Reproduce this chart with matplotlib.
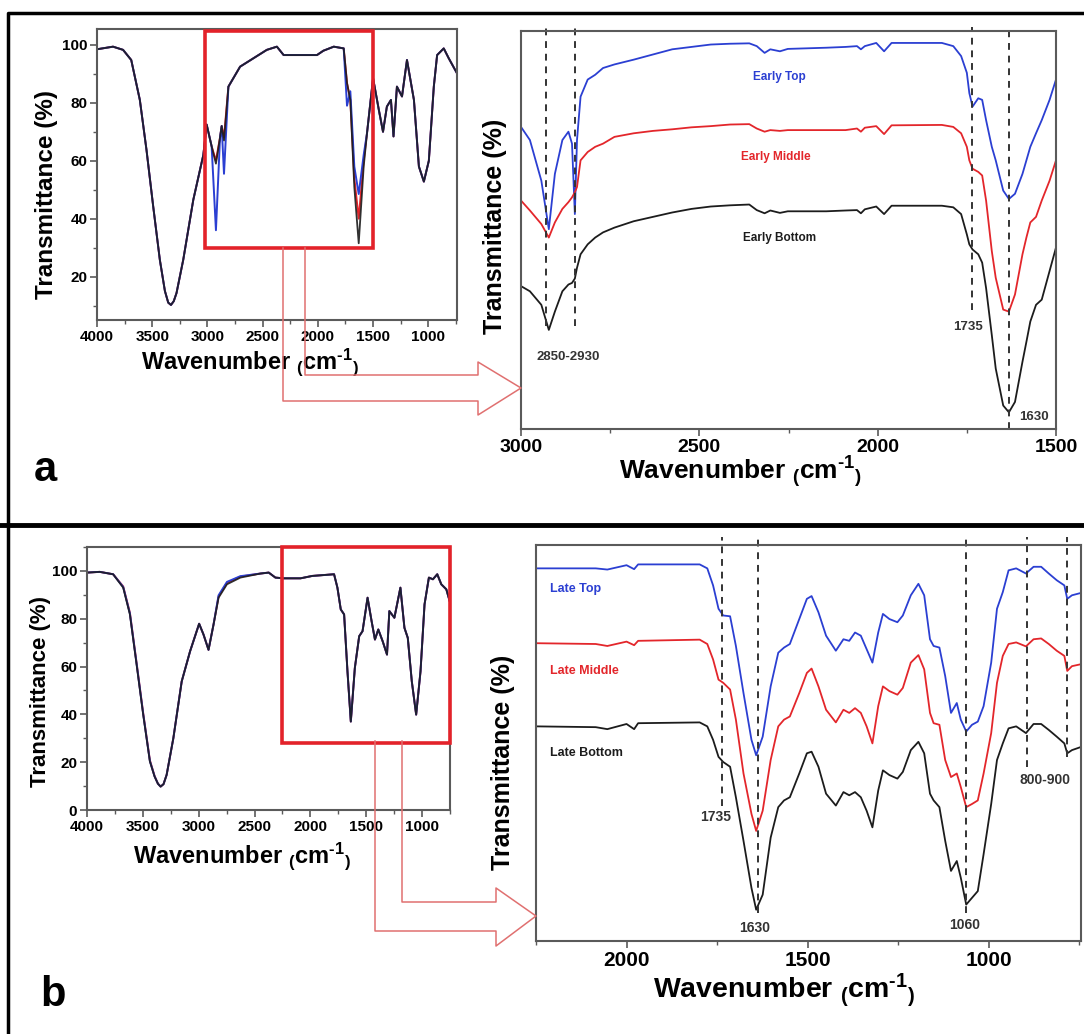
import numpy as np
import matplotlib.pyplot as plt
from matplotlib.lines import Line2D
from matplotlib.patches import Rectangle
from matplotlib.ticker import MultipleLocator

plt.rcParams.update({
    "font.family": ["Liberation Sans", "DejaVu Sans"],
    "font.weight": "bold",
    "mathtext.fontset": "custom",
    "mathtext.rm": "Liberation Sans:bold",
    "mathtext.bf": "Liberation Sans:bold",
    "mathtext.default": "rm",
})

W, H = 1084, 1034

BLUE = "#2b3fd2"
RED = "#e3262b"
BLACK = "#1c1c1c"
BOX_RED = "#e3222a"
ARROW_RED = "#e07070"
SPINE = "#5a5a5a"

XLABEL = "Wavenumber $_{(}$cm$^{\u20101}$$_{)}$"

# =============================================================================
# Data
# =============================================================================

# --- panel a, full spectrum (small plot) ------------------------------------
wn_a_full = [4000, 3855, 3764, 3690, 3612, 3552, 3491, 3431, 3385, 3355,
             3330, 3305, 3280, 3219, 3128, 3037, 3007, 2962, 2923, 2886,
             2871, 2850, 2810, 2704, 2462, 2371, 2310, 2008, 1950, 1856,
             1766, 1736, 1706, 1670, 1630, 1585, 1555, 1500, 1448, 1410,
             1375, 1338, 1315, 1284, 1238, 1193, 1130, 1085, 1040, 995,
             950, 920, 860, 815, 740]
early_black_full = [98.5, 99.4, 98.3, 94.8, 81.0, 63.8, 44.2, 25.8, 15.0, 11.0,
                    10.2, 11.5, 14.3, 25.8, 46.5, 62.0, 72.5, 65.0, 59.0, 68.0,
                    72.0, 67.0, 85.6, 92.5, 98.3, 99.4, 96.5, 96.5, 98.0, 99.4,
                    98.8, 86.8, 81.0, 51.0, 31.5, 58.0, 69.5, 88.5, 77.6, 70.0,
                    78.7, 81.0, 68.4, 85.6, 82.2, 94.8, 81.0, 58.0, 52.8, 60.0,
                    85.6, 96.5, 98.8, 95.4, 90.2]
early_red_full = [98.5, 99.4, 98.3, 94.8, 81.0, 63.8, 44.2, 25.8, 15.0, 11.0,
                  10.2, 11.5, 14.3, 25.8, 46.5, 62.0, 72.5, 65.0, 60.0, 68.0,
                  72.0, 68.0, 85.6, 92.5, 98.3, 99.4, 96.5, 96.5, 98.0, 99.4,
                  98.8, 86.8, 81.0, 54.0, 40.0, 60.0, 69.5, 88.5, 77.6, 70.0,
                  78.7, 81.0, 68.4, 85.6, 82.2, 94.8, 81.0, 58.0, 52.8, 60.0,
                  85.6, 96.5, 98.8, 95.4, 90.2]
early_blue_full = [98.5, 99.4, 98.3, 94.8, 81.0, 63.8, 44.2, 25.8, 15.0, 11.0,
                   10.2, 11.5, 14.3, 25.8, 46.5, 62.0, 72.5, 65.0, 36.0, 68.0,
                   72.0, 55.5, 85.6, 92.5, 98.3, 99.4, 96.5, 96.5, 98.0, 99.4,
                   98.8, 79.0, 84.0, 58.0, 48.5, 62.0, 69.5, 88.5, 77.6, 70.0,
                   78.7, 81.0, 68.4, 85.6, 82.2, 94.8, 81.0, 58.0, 52.8, 60.0,
                   85.6, 96.5, 98.8, 95.4, 90.2]

# --- panel a, zoomed 3000-1500 region (offset curves, arbitrary units) -------
wn_a_zoom = [3000, 2975, 2943, 2922, 2905, 2884, 2867, 2857, 2849, 2843,
             2833, 2813, 2792, 2770, 2738, 2684, 2630, 2576, 2522, 2468,
             2414, 2360, 2339, 2317, 2301, 2274, 2252, 2144, 2090, 2058,
             2047, 2036, 2004, 1982, 1961, 1820, 1788, 1766, 1750, 1743,
             1734, 1718, 1707, 1696, 1680, 1669, 1648, 1632, 1615, 1594,
             1583, 1572, 1556, 1540, 1518, 1500]
early_top = [75.9, 72.6, 62.4, 50.2, 64.1, 72.6, 74.7, 71.7, 54.0, 72.6,
             83.5, 87.8, 89.0, 90.7, 91.6, 92.8, 94.1, 95.4, 96.0, 96.6,
             96.8, 96.9, 96.2, 94.5, 95.4, 94.9, 95.5, 95.8, 96.0, 96.2,
             95.4, 96.2, 97.0, 94.9, 97.0, 97.0, 96.2, 93.7, 89.5, 84.4,
             81.0, 83.1, 82.7, 77.6, 70.9, 67.5, 59.9, 57.8, 59.1, 64.1,
             67.5, 70.9, 74.3, 77.6, 82.7, 87.8]
early_middle = [57.4, 54.9, 51.5, 48.1, 51.9, 55.3, 57.0, 58.2, 59.5, 60.8,
                67.5, 69.6, 70.9, 71.7, 73.4, 74.3, 74.9, 75.3, 75.8, 76.1,
                76.5, 76.6, 75.5, 74.7, 75.1, 74.9, 75.1, 75.1, 75.1, 75.5,
                74.7, 75.7, 76.1, 74.1, 76.3, 76.4, 75.9, 74.3, 70.9, 67.5,
                65.4, 64.6, 63.7, 57.4, 44.7, 38.0, 30.0, 29.5, 33.8, 43.9,
                48.1, 51.9, 53.3, 57.4, 62.4, 67.5]
early_bottom = [35.9, 34.6, 31.2, 24.9, 29.5, 34.6, 36.3, 36.7, 37.8, 40.5,
                43.9, 46.4, 48.1, 49.4, 50.6, 52.2, 53.3, 54.4, 55.3, 55.9,
                56.2, 56.4, 55.0, 54.2, 54.9, 54.3, 54.7, 54.7, 54.9, 55.0,
                54.2, 55.2, 55.9, 54.0, 56.1, 56.1, 55.7, 54.0, 48.9, 46.4,
                45.1, 43.9, 41.8, 35.4, 23.6, 15.2, 5.9, 4.2, 6.8, 16.9,
                21.9, 27.0, 31.2, 32.5, 39.7, 45.6]

# --- panel b, full spectrum (small plot) ------------------------------------
wn_b_full = [4000, 3886, 3766, 3676, 3616, 3556, 3497, 3437, 3395, 3365,
             3341, 3315, 3287, 3227, 3152, 3077, 2996, 2957, 2912, 2867,
             2822, 2747, 2627, 2447, 2373, 2313, 2238, 2088, 1983, 1788,
             1758, 1728, 1698, 1668, 1638, 1602, 1563, 1533, 1488, 1452,
             1422, 1392, 1353, 1314, 1293, 1248, 1194, 1158, 1128, 1092,
             1053, 1014, 978, 939, 903, 864, 828, 783, 753]
late_black_full = [99.3, 99.6, 98.6, 93.0, 81.8, 60.8, 39.9, 20.3, 14.0, 11.0,
                   9.8, 10.8, 14.7, 30.0, 53.8, 66.4, 77.9, 73.4, 67.0, 77.6,
                   88.8, 94.4, 97.2, 98.9, 99.3, 97.2, 96.9, 96.9, 97.9, 98.6,
                   93.0, 83.9, 81.8, 58.0, 37.0, 59.4, 72.7, 74.8, 88.8, 79.0,
                   71.3, 75.5, 70.6, 65.0, 83.2, 80.4, 93.0, 76.2, 72.0, 53.8,
                   39.9, 58.0, 86.0, 97.2, 96.5, 98.6, 94.4, 92.3, 87.4]
late_red_full = [99.3, 99.6, 98.6, 93.5, 82.5, 61.5, 40.5, 20.8, 14.2, 11.0,
                 9.8, 10.8, 14.7, 30.0, 53.8, 66.4, 77.9, 73.4, 67.0, 77.6,
                 89.3, 95.0, 97.6, 98.9, 99.3, 97.2, 96.9, 96.9, 97.9, 98.6,
                 93.0, 83.9, 81.8, 58.0, 37.0, 59.4, 72.7, 74.8, 88.8, 79.0,
                 71.3, 75.5, 70.6, 65.0, 83.2, 80.4, 93.0, 76.2, 72.0, 53.8,
                 39.9, 58.0, 86.0, 97.2, 96.5, 98.6, 94.4, 92.3, 87.4]
late_blue_full = [99.3, 99.6, 98.6, 93.3, 82.2, 61.2, 40.2, 20.5, 14.1, 11.0,
                  9.8, 10.8, 14.7, 30.0, 53.8, 66.4, 77.9, 73.4, 67.0, 77.6,
                  89.8, 95.4, 97.8, 98.9, 99.3, 97.2, 96.9, 96.9, 97.9, 98.6,
                  93.0, 83.9, 81.8, 58.0, 37.0, 59.4, 72.7, 74.8, 88.8, 79.0,
                  71.3, 75.5, 70.6, 65.0, 83.2, 80.4, 93.0, 76.2, 72.0, 53.8,
                  39.9, 58.0, 86.0, 97.2, 96.5, 98.6, 94.4, 92.3, 87.4]

# --- panel b, zoomed 2250-745 region (offset curves, arbitrary units) --------
wn_b_zoom = [2250, 2085, 2053, 2000, 1979, 1968, 1798, 1777, 1761, 1746,
             1733, 1714, 1698, 1677, 1655, 1642, 1624, 1602, 1581, 1565,
             1549, 1523, 1502, 1489, 1470, 1449, 1422, 1401, 1385, 1369,
             1353, 1337, 1321, 1305, 1292, 1274, 1252, 1237, 1215, 1194,
             1178, 1162, 1152, 1136, 1120, 1104, 1088, 1077, 1062, 1046,
             1030, 1014, 993, 977, 961, 945, 924, 897, 876, 855,
             834, 812, 791, 783, 770, 745]
late_top = [94.1, 94.1, 93.8, 94.9, 93.9, 95.1, 95.1, 94.1, 89.8, 83.9,
            82.2, 82.0, 74.5, 62.6, 50.8, 46.9, 51.6, 64.3, 72.8, 74.1,
            75.0, 81.3, 86.4, 87.1, 83.0, 77.1, 73.3, 76.2, 75.8, 77.9,
            77.1, 73.7, 70.3, 77.9, 82.6, 81.3, 80.5, 82.2, 87.3, 90.2,
            87.3, 76.2, 74.5, 74.1, 66.9, 57.6, 60.1, 55.9, 52.9, 54.6,
            55.4, 59.3, 70.3, 83.9, 88.1, 93.6, 94.1, 92.8, 94.5, 94.5,
            92.8, 91.1, 89.8, 86.4, 87.3, 87.9]
late_middle = [75.2, 75.0, 74.5, 75.6, 74.7, 75.8, 76.1, 75.0, 71.1, 66.0,
               65.2, 63.5, 55.9, 42.3, 32.1, 27.8, 32.9, 45.7, 54.2, 55.9,
               56.7, 62.6, 67.7, 68.8, 64.3, 58.4, 55.2, 58.4, 57.6, 58.8,
               57.6, 54.2, 49.9, 59.3, 64.3, 63.1, 62.2, 63.9, 70.3, 72.2,
               68.6, 57.6, 55.0, 54.6, 45.7, 41.4, 42.3, 38.9, 33.8, 34.6,
               35.5, 42.3, 52.5, 65.2, 72.0, 75.0, 75.4, 74.4, 76.2, 76.4,
               75.0, 73.3, 72.0, 68.2, 69.4, 69.9]
late_bottom = [54.2, 54.0, 53.5, 54.8, 53.5, 55.0, 55.2, 54.2, 50.8, 46.5,
               45.2, 44.0, 36.3, 25.3, 13.4, 7.9, 11.7, 26.1, 33.8, 35.5,
               36.3, 42.3, 47.4, 47.8, 44.0, 37.2, 34.2, 37.6, 36.8, 37.6,
               36.3, 32.9, 28.7, 38.0, 43.1, 41.9, 41.0, 42.7, 48.2, 50.3,
               47.4, 37.2, 35.5, 33.8, 25.3, 17.7, 20.2, 16.0, 9.2, 10.9,
               12.6, 21.9, 34.6, 45.7, 49.9, 53.7, 54.2, 52.5, 54.8, 54.8,
               53.3, 51.6, 49.9, 47.4, 48.2, 49.0]

# marker lines (wavenumber) and how far down they reach (axes fraction)
early_peaks = [2930, 2850, 1735, 1632]
early_peak_ymin = [0.26, 0.26, 0.30, 0.0]
late_peaks = [1735, 1638, 1062, 895, 785]
late_peak_ymin = [0.34, 0.07, 0.07, 0.44, 0.465]

early_names = ["Early Top", "Early Middle", "Early Bottom"]
early_name_pos = [(2276, 88.4), (2285, 68.4), (2274, 47.9)]
late_names = ["Late Top", "Late Middle", "Late Bottom"]
late_name_pos = [(2212, 89.0), (2212, 68.2), (2212, 47.5)]
early_notes = ["2850-2930", "1735", "1630"]
early_note_pos = [(2869, 18.1), (1747, 25.7), (1562, 3.0)]
late_notes = ["1735", "1630", "1060", "800-900"]
late_note_pos = [(1754, 31.2), (1645, 3.2), (1065, 4.0), (844, 40.6)]


# =============================================================================
# helpers
# =============================================================================

def px_axes(fig, x0, y0, x1, y1):
    """Axes from pixel box (top-left origin)."""
    return fig.add_axes([x0 / W, 1 - y1 / H, (x1 - x0) / W, (y1 - y0) / H])


def style(ax, tick_fs, show_y=True):
    for s in ax.spines.values():
        s.set_color(SPINE)
        s.set_linewidth(1.5)
    ax.tick_params(which="both", direction="out", color=SPINE, top=False,
                   right=False, labelsize=tick_fs, pad=2)
    ax.tick_params(which="major", length=5, width=1.2)
    ax.tick_params(which="minor", length=3, width=1.0)
    if not show_y:
        ax.tick_params(axis="y", which="both", left=False, labelleft=False)
    for lab in ax.get_xticklabels() + ax.get_yticklabels():
        lab.set_fontweight("bold")


def polyline(fig, pts, **kw):
    xs = [p[0] / W for p in pts]
    ys = [1 - p[1] / H for p in pts]
    fig.add_artist(Line2D(xs, ys, transform=fig.transFigure, **kw))


fig = plt.figure(figsize=(W / 100, H / 100), dpi=100)

# -------------------------------------------------------------- panel a left
ax = px_axes(fig, 97, 29, 457, 320)
ax.plot(wn_a_full, early_red_full, color=RED, lw=1.4)
ax.plot(wn_a_full, early_blue_full, color=BLUE, lw=1.4)
ax.plot(wn_a_full, early_black_full, color=BLACK, lw=1.3, alpha=0.9)
ax.set_xlim(4000, 740)
ax.set_ylim(5, 105.5)
ax.set_xticks([4000, 3500, 3000, 2500, 2000, 1500, 1000])
ax.set_yticks([20, 40, 60, 80, 100])
ax.xaxis.set_minor_locator(MultipleLocator(250))
ax.yaxis.set_minor_locator(MultipleLocator(10))
style(ax, 11)
ax.add_patch(Rectangle((3020, 30), -1520, 74.8, fill=False, ec=BOX_RED,
                       lw=2.6, clip_on=False, zorder=5))
ax.set_xlabel(XLABEL, fontsize=17, fontweight="bold", va="center")
ax.xaxis.set_label_coords(0.425, -0.145)
ax.set_ylabel("Transmittance (%)", fontsize=17.5, fontweight="bold",
              va="center")
ax.yaxis.set_label_coords(-0.139, 0.43)

# ------------------------------------------------------------- panel a right
ax = px_axes(fig, 521, 31, 1056, 429)
ax.plot(wn_a_zoom, early_top, color=BLUE, lw=1.3)
ax.plot(wn_a_zoom, early_middle, color=RED, lw=1.3)
ax.plot(wn_a_zoom, early_bottom, color=BLACK, lw=1.3)
for x, ymin in zip(early_peaks, early_peak_ymin):
    ax.axvline(x, ymin=ymin, ymax=1.01, color="#333333", lw=1.4,
               dashes=(3.5, 3), clip_on=False)
ax.set_xlim(3000, 1500)
ax.set_ylim(0, 100)
ax.set_xticks([3000, 2500, 2000, 1500])
ax.xaxis.set_minor_locator(MultipleLocator(250))
style(ax, 14, show_y=False)
for name, (x, y), c in zip(early_names, early_name_pos, [BLUE, RED, BLACK]):
    ax.text(x, y, name, color=c, fontsize=8.5, fontweight="bold",
            ha="center", va="center")
for note, (x, y) in zip(early_notes, early_note_pos):
    ax.text(x, y, note, color="#333333", fontsize=9.5, fontweight="bold",
            ha="center", va="center")
ax.set_xlabel(XLABEL, fontsize=19, fontweight="bold", va="center")
ax.xaxis.set_label_coords(0.41, -0.108)
ax.set_ylabel("Transmittance (%)", fontsize=18, fontweight="bold",
              va="center")
ax.yaxis.set_label_coords(-0.049, 0.508)

# -------------------------------------------------------------- panel b left
ax = px_axes(fig, 87, 547, 450, 810)
ax.plot(wn_b_full, late_red_full, color=RED, lw=1.4)
ax.plot(wn_b_full, late_blue_full, color=BLUE, lw=1.4)
ax.plot(wn_b_full, late_black_full, color=BLACK, lw=1.3, alpha=0.9)
ax.set_xlim(4000, 750)
ax.set_ylim(0, 110)
ax.set_xticks([4000, 3500, 3000, 2500, 2000, 1500, 1000])
ax.set_yticks([0, 20, 40, 60, 80, 100])
ax.xaxis.set_minor_locator(MultipleLocator(250))
ax.yaxis.set_minor_locator(MultipleLocator(10))
style(ax, 11)
ax.add_patch(Rectangle((2250, 28), -1500, 82, fill=False, ec=BOX_RED,
                       lw=2.6, clip_on=False, zorder=5))
ax.set_xlabel(XLABEL, fontsize=17, fontweight="bold", va="center")
ax.xaxis.set_label_coords(0.427, -0.175)
ax.set_ylabel("Transmittance (%)", fontsize=16, fontweight="bold",
              va="center")
ax.yaxis.set_label_coords(-0.129, 0.449)

# ------------------------------------------------------------- panel b right
ax = px_axes(fig, 536, 545, 1081, 941)
ax.plot(wn_b_zoom, late_top, color=BLUE, lw=1.3)
ax.plot(wn_b_zoom, late_middle, color=RED, lw=1.3)
ax.plot(wn_b_zoom, late_bottom, color=BLACK, lw=1.3)
for x, ymin in zip(late_peaks, late_peak_ymin):
    ax.axvline(x, ymin=ymin, ymax=1.02, color="#333333", lw=1.4,
               dashes=(3.5, 3), clip_on=False)
ax.set_xlim(2250, 745)
ax.set_ylim(0, 100)
ax.set_xticks([2000, 1500, 1000])
ax.xaxis.set_minor_locator(MultipleLocator(250))
style(ax, 15, show_y=False)
for name, (x, y), c in zip(late_names, late_name_pos, [BLUE, RED, BLACK]):
    ax.text(x, y, name, color=c, fontsize=9, fontweight="bold",
            ha="left", va="center")
for note, (x, y) in zip(late_notes, late_note_pos):
    ax.text(x, y, note, color="#333333", fontsize=10, fontweight="bold",
            ha="center", va="center")
ax.set_xlabel(XLABEL, fontsize=20.5, fontweight="bold", va="center")
ax.xaxis.set_label_coords(0.455, -0.124)
ax.set_ylabel("Transmittance (%)", fontsize=18, fontweight="bold",
              va="center")
ax.yaxis.set_label_coords(-0.061, 0.452)

# ---------------------------------------------------- hollow callout arrows
arrow_kw = dict(color=ARROW_RED, lw=1.1, zorder=10)
polyline(fig, [(283, 248), (283, 401), (478, 401), (478, 415), (521, 388),
               (478, 362), (478, 375), (305, 375), (305, 248)], **arrow_kw)
polyline(fig, [(375, 741), (375, 931), (496, 931), (496, 946), (536, 916),
               (496, 888), (496, 902), (402, 902), (402, 741)], **arrow_kw)

# ------------------------------------------------------- frame and labels
polyline(fig, [(8, 1034), (8, 13), (1084, 13)], color="black", lw=2.5)
polyline(fig, [(0, 525), (1084, 525)], color="black", lw=3.5)
fig.text(45 / W, 1 - 470 / H, "a", fontsize=30, fontweight="bold",
         ha="center", va="center")
fig.text(53 / W, 1 - 995 / H, "b", fontsize=30, fontweight="bold",
         ha="center", va="center")

fig.savefig("out.png", dpi=100)
